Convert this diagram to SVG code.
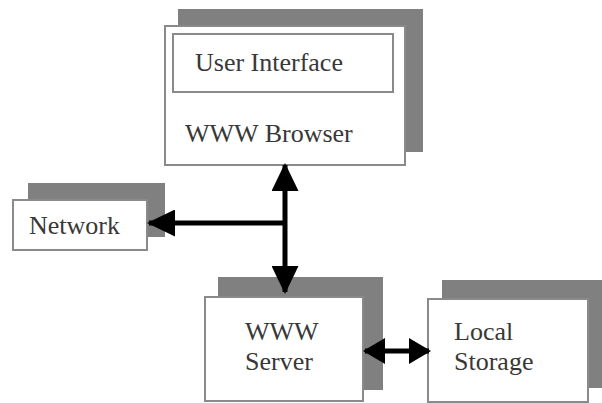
<svg xmlns="http://www.w3.org/2000/svg" width="602" height="403" viewBox="0 0 602 403">
<style>
.shadow{fill:#808080;}
.box{fill:#fff;stroke:#8a8a8a;stroke-width:2;}
.lbl{font-family:'Liberation Serif','Times New Roman',serif;font-size:26px;fill:#383838;}
.conn{stroke:#000;stroke-width:5;fill:none;}
</style>
<defs>
<marker id="ah" markerUnits="userSpaceOnUse" markerWidth="28" markerHeight="27" refX="26" refY="13.5" orient="auto-start-reverse" viewBox="0 0 28 27">
<path d="M0,0 L28,13.5 L0,27 z" fill="#000"/>
</marker>
<marker id="ahs" markerUnits="userSpaceOnUse" markerWidth="22" markerHeight="26" refX="20" refY="13" orient="auto-start-reverse" viewBox="0 0 22 26">
<path d="M0,0 L22,13 L0,26 z" fill="#000"/>
</marker>
</defs>
<rect width="602" height="403" fill="#fff"/>
<g id="browser">
<rect class="shadow" x="178" y="9" width="245" height="143"/>
<rect class="box" x="165" y="26" width="240" height="139"/>
<rect class="box" x="173" y="34" width="220" height="58"/>
<text class="lbl" x="195" y="71">User Interface</text>
<text class="lbl" x="185" y="142">WWW Browser</text>
</g>
<g id="network">
<rect class="shadow" x="28" y="183" width="137" height="54"/>
<rect class="box" x="13" y="200" width="134" height="50"/>
<text class="lbl" x="29" y="234">Network</text>
</g>
<g id="server">
<rect class="shadow" x="218" y="277" width="165" height="113"/>
<rect class="box" x="205" y="297" width="158" height="104"/>
<text class="lbl" x="245" y="340">WWW</text>
<text class="lbl" x="245" y="370">Server</text>
</g>
<g id="storage">
<rect class="shadow" x="442" y="280" width="162" height="108"/>
<rect class="box" x="428" y="299" width="160" height="103"/>
<text class="lbl" x="454" y="340">Local</text>
<text class="lbl" x="454" y="370">Storage</text>
</g>
<g id="connectors">
<line class="conn" x1="285" y1="165" x2="285" y2="292" marker-start="url(#ah)" marker-end="url(#ah)"/>
<line class="conn" x1="285" y1="223" x2="149" y2="223" marker-end="url(#ah)"/>
<line class="conn" x1="365" y1="351" x2="429" y2="351" marker-start="url(#ahs)" marker-end="url(#ahs)"/>
</g>
</svg>
